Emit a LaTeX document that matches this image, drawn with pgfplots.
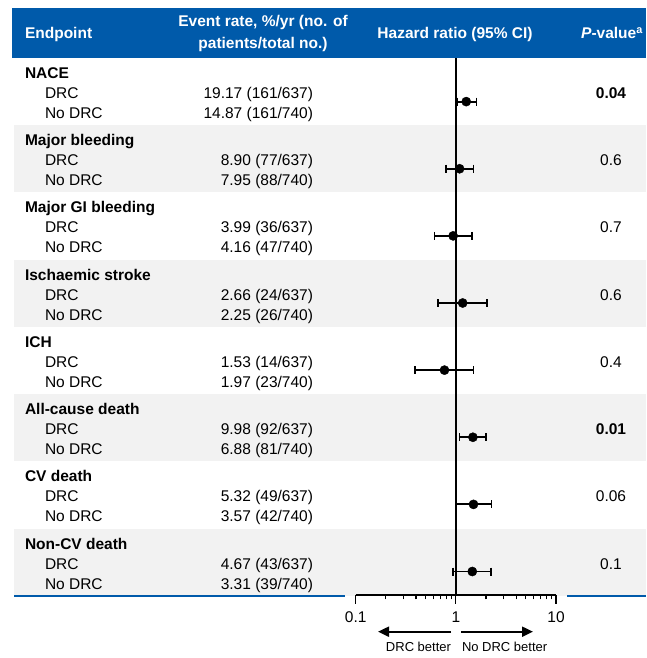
\documentclass[border=0pt]{standalone}
\usepackage{pgfplots}
\pgfplotsset{compat=1.18}
\usepackage{fontspec}
\setmainfont{Liberation Sans}
\usetikzlibrary{arrows.meta}
\definecolor{hdrblue}{RGB}{0,90,170}
\definecolor{rowgray}{RGB}{242,242,242}
\tikzset{tx/.style={inner sep=0pt, outer sep=0pt}}
\newcommand{\grp}[5]{%
 \pgfmathsetmacro\grpTop{658-58-67.25*#1}%
 \node[tx,anchor=base west,font=\bfseries] at (25,\grpTop-20.5) {#2};
 \node[tx,anchor=base west] at (45,\grpTop-40.5) {DRC};
 \node[tx,anchor=base west] at (45,\grpTop-60.5) {No DRC};
 \node[tx,anchor=base east] at (313,\grpTop-40.5) {#3};
 \node[tx,anchor=base east] at (313,\grpTop-60.5) {#4};
 \node[tx,anchor=base] at (611,\grpTop-40.5) {#5};
}
\begin{document}
\fontsize{15.5}{18}\selectfont
\begin{tikzpicture}[x=1pt,y=1pt]
\useasboundingbox (0,0) rectangle (646,658);
% header band
\fill[hdrblue] (12,650) rectangle (646,600);
\node[tx,anchor=base west,white,font=\bfseries] at (25,658-39) {Endpoint};
\node[tx,anchor=base,white,font=\bfseries] at (263,658-27) {Event rate, \%/yr (no. of};
\node[tx,anchor=base,white,font=\bfseries] at (263,658-49) {patients/total no.)};
\node[tx,anchor=base,white,font=\bfseries] at (455,658-39) {Hazard ratio (95\% CI)};
\node[tx,anchor=base,white,font=\bfseries] at (612,658-39) {\textit{P}-value\textsuperscript{a}};
% gray row bands
\foreach \i in {1,3,5,7} {
  \fill[rowgray] (14,{658-58-67.25*\i}) rectangle (646,{658-58-67.25*(\i+1)});
}
% rows
\grp{0}{NACE}{19.17 (161/637)}{14.87 (161/740)}{\textbf{0.04}}
\grp{1}{Major bleeding}{8.90 (77/637)}{7.95 (88/740)}{0.6}
\grp{2}{Major GI bleeding}{3.99 (36/637)}{4.16 (47/740)}{0.7}
\grp{3}{Ischaemic stroke}{2.66 (24/637)}{2.25 (26/740)}{0.6}
\grp{4}{ICH}{1.53 (14/637)}{1.97 (23/740)}{0.4}
\grp{5}{All-cause death}{9.98 (92/637)}{6.88 (81/740)}{\textbf{0.01}}
\grp{6}{CV death}{5.32 (49/637)}{3.57 (42/740)}{0.06}
\grp{7}{Non-CV death}{4.67 (43/637)}{3.31 (39/740)}{0.1}
% bottom blue rule
\draw[hdrblue, line width=2.5pt] (14,62) -- (345,62);
\draw[hdrblue, line width=2.5pt] (567,62) -- (646,62);
\begin{axis}[
  at={(355.7pt,63pt)}, anchor=south west,
  scale only axis, width=200.3pt, height=537pt,
  xmode=log, xmin=0.1, xmax=10, ymin=0, ymax=8,
  axis y line=none, ytick=\empty,
  axis x line*=bottom,
  xtick={0.1,1,10}, xticklabels={0.1,1,10},
  minor xtick={0.2,0.3,0.4,0.5,0.6,0.7,0.8,0.9,2,3,4,5,6,7,8,9},
  tick align=outside, major tick length=9pt, minor tick length=4.5pt,
  tick style={line width=1.2pt, black},
  axis line style={line width=1.5pt, black},
  xticklabel style={font=\fontsize{15.5}{18}\selectfont, yshift=-2pt},
  clip=false,
]
\addplot[black, line width=2pt] coordinates {(1,0) (1,8)};
\pgfplotsset{ci/.style={black, line width=1.8pt, mark=|, mark size=4pt, mark options={line width=1.6pt}}}
\addplot[ci] coordinates {(1.03,7.35) (1.61,7.35)};
\addplot[ci] coordinates {(0.80,6.35) (1.50,6.35)};
\addplot[ci] coordinates {(0.61,5.35) (1.44,5.35)};
\addplot[ci] coordinates {(0.66,4.35) (2.04,4.35)};
\addplot[ci] coordinates {(0.39,3.35) (1.50,3.35)};
\addplot[ci] coordinates {(1.09,2.35) (2.01,2.35)};
\addplot[ci] coordinates {(1.00,1.35) (2.27,1.35)};
\addplot[ci] coordinates {(0.94,0.35) (2.24,0.35)};
\addplot[only marks, mark=*, mark size=4.6pt, black] coordinates {
 (1.27,7.35) (1.09,6.35) (0.94,5.35) (1.17,4.35)
 (0.77,3.35) (1.48,2.35) (1.50,1.35) (1.46,0.35)};
\end{axis}
% direction arrows
\draw[line width=2pt, -{Triangle[length=11pt,width=10pt]}] (451,658-631.7) -- (378,658-631.7);
\draw[line width=2pt, -{Triangle[length=11pt,width=10pt]}] (461,658-631.7) -- (533,658-631.7);
\node[tx,anchor=base east,font=\fontsize{13}{15}\selectfont] at (451,658-652) {DRC better};
\node[tx,anchor=base west,font=\fontsize{13}{15}\selectfont] at (462,658-652) {No DRC better};
\end{tikzpicture}
\end{document}
